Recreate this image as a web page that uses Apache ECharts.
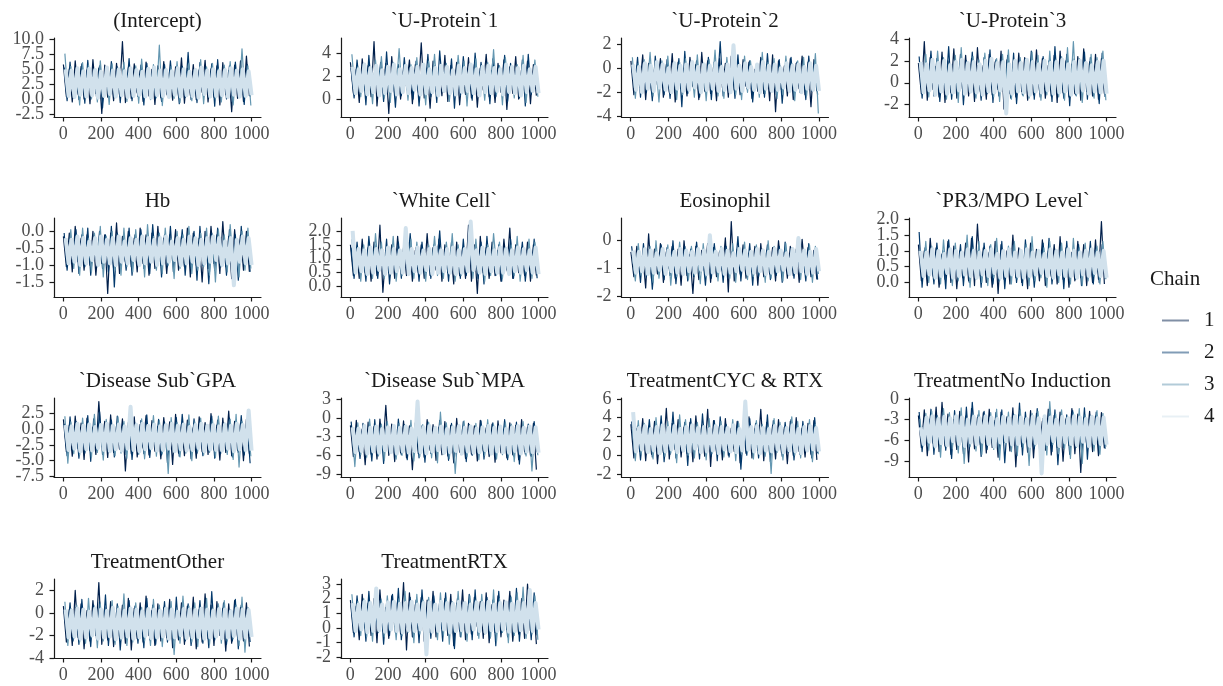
<!DOCTYPE html>
<html><head><meta charset="utf-8">
<script src="https://cdn.jsdelivr.net/npm/echarts@6/dist/echarts.min.js"></script>
<style>html,body{margin:0;padding:0;background:#fff}#c{width:1223px;height:686px}</style>
</head><body><div id="c"></div>
<script>
const panelTitles = ["(Intercept)","`U-Protein`1","`U-Protein`2","`U-Protein`3","Hb","`White Cell`","Eosinophil","`PR3/MPO Level`","`Disease Sub`GPA","`Disease Sub`MPA","TreatmentCYC & RTX","TreatmentNo Induction","TreatmentOther","TreatmentRTX"];
const yTickLabels = [
 ["-2.5","0.0","2.5","5.0","7.5","10.0"],
 ["0","2","4"],
 ["-4","-2","0","2"],
 ["-2","0","2","4"],
 ["-1.5","-1.0","-0.5","0.0"],
 ["0.0","0.5","1.0","1.5","2.0"],
 ["-2","-1","0"],
 ["0.0","0.5","1.0","1.5","2.0"],
 ["-7.5","-5.0","-2.5","0.0","2.5"],
 ["-9","-6","-3","0","3"],
 ["-2","0","2","4","6"],
 ["-9","-6","-3","0"],
 ["-4","-2","0","2"],
 ["-2","-1","0","1","2","3"]
];
const xTickLabels = ["0","200","400","600","800","1000"];
const chainNames = ["1","2","3","4"];

// each chain alternates between an upper-mode draw (Hi) and a lower-mode draw (Lo)
const interceptHi = [
 [5.8,5.1,6.4,5.5,4.9,6.6,5.2,5.7,4.6,6.0,9.6,5.3,5.9,4.8,6.2,5.0,5.6,6.3,4.7,5.4,6.9,5.2,5.8,4.9,6.5,5.1,5.6,6.1,4.8,5.7,6.4,7.2],
 [5.3,6.2,4.8,5.9,6.5,5.0,5.6,4.7,6.3,5.4,5.1,6.8,4.9,5.7,6.0,5.2,4.6,5.8,6.4,5.0,5.5,7.8,4.8,6.1,5.3,5.9,6.6,4.9,5.6,6.2,5.1,5.8],
 [7.6,5.5,5.0,6.1,5.7,4.8,6.4,5.3,5.9,5.1,6.2,4.9,5.6,6.7,5.0,5.8,9.0,4.7,5.5,6.3,5.2,5.9,4.8,6.6,5.4,6.0,5.1,5.7,6.3,5.0,8.4,5.6],
 [5.0,4.8,5.2,4.7,5.1,4.9,4.6,5.3,4.8,5.0,4.7,5.2,4.9,4.6,5.1,5.3,4.8,4.9,4.7,5.2,5.0,4.6,4.9,5.3,4.8,5.0,4.7,4.9,5.2,4.8,5.0,4.7]];
const interceptLo = [
 [0.5,-0.4,0.9,0.1,-0.7,1.0,-2.3,0.4,-0.2,0.8,-0.5,0.2,1.1,-0.3,0.6,-0.8,0.3,0.9,-0.1,0.5,-0.6,0.7,0.0,1.2,-0.4,0.4,-0.9,0.8,-2.0,0.2,-0.3,0.6],
 [-0.2,0.7,0.0,-0.6,0.9,0.3,-1.4,1.0,0.4,-0.5,0.8,-0.2,0.5,-0.9,1.1,0.2,-0.3,0.6,0.9,-0.7,0.4,0.0,-0.5,0.8,0.3,-1.1,0.6,0.1,-0.4,0.9,-0.8,0.5],
 [0.8,0.2,-0.9,0.6,0.1,-0.4,0.7,-0.8,0.3,1.0,-0.3,0.5,-0.6,0.9,0.0,0.4,-1.0,0.7,0.2,-0.5,1.2,-0.2,0.6,-0.7,0.8,0.1,-0.4,0.5,-0.9,0.3,0.7,-1.0],
 [0.6,0.4,0.8,0.5,0.7,0.3,0.6,0.9,0.5,0.7,0.4,0.6,0.8,0.5,0.3,0.7,0.6,0.4,0.8,0.5,0.7,0.6,0.3,0.9,0.5,0.6,0.7,0.4,0.8,0.5,0.6,0.7]];
const uProtein1Hi = [
 [3.2,2.6,3.5,2.9,5.0,2.4,3.1,3.7,2.8,2.5,3.4,3.0,4.9,2.7,3.3,2.6,3.8,2.9,3.2,2.4,3.6,3.0,2.7,3.9,2.5,3.1,3.4,2.8,3.7,2.6,3.3,3.0],
 [2.7,3.4,2.9,3.8,2.5,3.2,4.1,2.6,3.0,3.6,2.8,3.3,2.6,3.9,2.9,4.2,2.7,3.5,3.1,3.7,2.6,4.0,3.2,2.8,3.5,2.9,3.8,3.1,2.7,3.4,3.9,2.8],
 [3.9,2.8,3.1,2.5,3.4,3.7,2.9,3.2,4.4,2.8,3.0,3.6,2.6,3.3,3.9,2.7,3.1,2.5,3.8,3.3,2.9,3.5,2.6,3.2,4.3,2.9,3.6,2.7,3.0,3.8,2.5,3.4],
 [2.8,2.6,3.0,2.7,2.9,2.5,2.8,3.0,2.6,2.9,2.7,2.8,3.0,2.6,2.7,2.9,2.8,2.5,2.9,2.7,3.0,2.6,2.8,2.9,2.7,2.6,3.0,2.8,2.7,2.9,2.6,2.8]];
const uProtein1Lo = [
 [0.5,-0.3,0.8,0.2,-0.6,0.9,-1.25,0.4,0.0,1.1,-0.4,0.6,0.1,-0.8,0.7,0.3,-0.2,0.9,-0.5,0.4,0.1,-0.7,0.8,0.2,-0.3,0.6,-0.9,0.5,0.0,0.7,-0.4,0.3],
 [0.1,0.7,-0.5,0.4,0.9,-0.2,0.5,-0.7,0.3,0.8,0.0,-0.6,0.6,0.2,-0.3,1.0,0.4,-0.8,0.3,0.7,-0.1,0.5,0.9,-0.4,0.2,0.6,-0.2,0.8,0.1,-0.6,0.4,0.7],
 [0.8,0.2,0.4,-0.4,0.6,0.1,-0.3,0.9,0.5,-0.1,0.7,0.3,-0.5,0.8,0.2,0.6,-0.2,0.4,0.9,-0.6,0.5,0.2,-0.1,0.7,0.4,-0.5,0.8,0.1,0.6,-0.3,0.9,0.2],
 [0.5,0.7,0.4,0.6,0.3,0.5,0.7,0.4,0.6,0.5,0.8,0.4,0.5,0.6,0.3,0.7,0.5,0.4,0.6,0.7,0.5,0.3,0.6,0.5,0.7,0.4,0.6,0.5,0.3,0.6,0.7,0.5]];
const uProtein2Hi = [
 [0.6,0.2,1.1,0.4,-0.1,0.8,0.3,1.2,0.5,0.0,0.9,0.3,1.3,0.6,0.1,0.8,0.4,1.0,0.2,0.7,0.5,-0.1,0.9,0.3,1.1,0.6,0.2,0.8,0.4,1.0,0.5,0.7],
 [0.2,0.9,0.5,0.0,1.0,0.4,0.7,0.1,0.8,1.4,0.3,0.6,-0.2,0.9,0.5,2.2,0.2,0.7,1.1,0.3,0.6,0.0,0.8,1.2,0.4,0.7,0.1,0.9,0.5,0.2,1.0,0.6],
 [0.9,0.4,0.7,1.3,0.2,0.6,1.0,0.3,0.5,0.8,0.1,1.1,0.4,0.7,1.5,0.3,0.9,0.5,0.2,1.0,0.6,0.3,1.3,0.5,0.8,0.2,1.0,0.4,0.6,0.9,0.3,1.2],
 [0.3,0.1,0.4,0.2,0.5,0.3,0.0,0.4,0.2,0.3,0.5,0.1,0.3,0.2,0.4,0.1,0.3,1.9,0.2,0.4,0.1,0.3,0.5,0.2,0.3,0.0,0.4,0.2,0.3,0.1,0.4,0.2]];
const uProtein2Lo = [
 [-2.2,-1.6,-2.6,-1.9,-1.4,-2.4,-2.0,-2.8,-1.7,-2.3,-1.5,-2.6,-1.9,-2.1,-2.7,-1.6,-2.4,-1.8,-2.2,-1.5,-2.5,-1.9,-2.1,-2.7,-3.6,-1.8,-2.3,-2.6,-1.7,-2.2,-3.2,-1.9],
 [-1.8,-2.4,-2.0,-2.7,-1.6,-2.2,-2.5,-1.9,-3.2,-2.1,-1.7,-2.4,-2.0,-2.6,-1.8,-2.3,-1.5,-2.5,-2.1,-1.7,-2.8,-2.0,-2.4,-1.8,-2.2,-2.9,-1.7,-2.3,-2.0,-2.6,-1.9,-2.2],
 [-2.5,-2.0,-1.7,-2.3,-2.8,-1.8,-2.1,-2.6,-2.2,-1.6,-2.4,-2.0,-2.7,-1.8,-2.3,-2.5,-1.9,-2.2,-2.6,-2.0,-1.7,-2.4,-2.1,-1.8,-2.5,-2.2,-1.9,-2.7,-2.0,-2.3,-1.8,-3.75],
 [-1.8,-2.0,-1.7,-1.9,-1.6,-1.8,-2.0,-1.7,-1.9,-1.8,-1.6,-2.0,-1.8,-1.7,-1.9,-1.8,-2.0,-1.7,-1.9,-1.6,-1.8,-2.0,-1.7,-1.9,-1.8,-1.6,-1.9,-1.8,-2.0,-1.7,-1.8,-1.9]];
const uProtein3Hi = [
 [1.8,3.76,2.3,1.5,2.8,2.0,3.1,1.7,2.5,2.2,3.2,1.6,2.6,1.9,2.9,2.1,1.4,2.7,2.3,1.8,3.0,2.2,1.6,2.5,2.9,2.0,1.7,2.4,3.1,1.9,2.6,2.2],
 [2.4,1.7,2.9,2.2,1.5,3.3,1.9,2.6,2.0,2.8,1.6,2.3,3.0,2.1,1.8,2.5,2.7,1.5,2.2,2.9,1.8,2.4,2.0,3.3,1.7,2.6,2.2,1.9,2.8,2.3,1.6,2.7],
 [1.6,2.6,2.0,2.9,2.3,1.8,2.5,3.2,1.9,2.4,2.1,2.7,1.7,2.2,2.6,3.0,1.9,2.3,2.0,2.8,2.5,1.6,2.9,2.1,2.4,3.2,3.76,2.2,1.8,2.6,2.3,2.9],
 [1.9,1.7,2.1,1.8,2.0,1.6,1.9,2.1,1.8,1.9,1.7,2.0,2.2,1.8,1.9,1.7,2.0,1.8,2.1,1.9,1.7,2.0,1.8,1.9,2.1,1.7,1.9,2.0,1.8,1.6,1.9,2.0]];
const uProtein3Lo = [
 [-1.0,-1.6,-0.6,-1.3,-1.8,-0.9,-1.4,-0.7,-1.2,-1.7,-0.8,-1.5,-1.1,-0.6,-2.4,-1.0,-1.3,-0.8,-1.6,-1.1,-0.7,-1.4,-1.2,-1.8,-0.9,-1.3,-1.0,-1.6,-0.8,-1.2,-1.5,-1.0],
 [-1.4,-0.8,-1.2,-1.7,-0.9,-1.5,-1.1,-2.0,-0.7,-1.3,-1.6,-1.0,-1.8,-1.2,-0.8,-1.4,-1.9,-1.1,-0.7,-1.5,-1.3,-0.9,-1.7,-1.0,-1.4,-2.1,-1.1,-0.8,-1.5,-1.2,-1.9,-1.3],
 [-0.8,-1.3,-1.0,-0.6,-1.5,-1.1,-1.8,-1.2,-0.9,-1.4,-1.1,-0.8,-1.3,-1.7,-1.0,-1.5,-0.7,-1.2,-1.4,-0.9,-1.6,-1.1,-0.8,-1.3,-1.6,-1.0,-1.2,-1.8,-1.0,-1.4,-0.9,-1.6],
 [-0.9,-0.7,-1.1,-0.8,-1.0,-0.9,-0.7,-1.0,-0.8,-0.9,-1.1,-0.8,-0.9,-0.7,-2.8,-1.0,-0.8,-0.9,-1.1,-0.8,-0.9,-0.7,-1.0,-0.9,-0.8,-1.1,-0.9,-0.7,-1.0,-0.8,-0.9,-1.0]];
const hbHi = [
 [-0.15,-0.05,0.15,-0.2,-0.1,0.0,-0.25,-0.1,-0.05,0.25,-0.15,0.0,-0.2,0.1,-0.1,-0.05,0.15,-0.2,-0.1,0.05,-0.15,0.1,-0.05,-0.2,0.0,0.15,-0.1,0.29,-0.15,0.05,-0.1,0.0],
 [-0.05,-0.2,0.05,-0.1,0.1,-0.25,0.0,-0.1,0.15,-0.05,-0.2,0.1,-0.1,0.05,-0.15,0.2,-0.05,-0.1,0.15,-0.2,0.05,-0.1,0.0,0.15,-0.15,-0.05,0.1,-0.2,0.05,-0.1,0.15,-0.05],
 [-0.25,0.05,-0.1,0.1,-0.2,-0.05,0.15,-0.15,0.0,-0.1,0.1,-0.2,0.05,-0.1,0.2,-0.15,-0.05,0.1,-0.2,0.0,-0.1,0.15,-0.2,-0.05,0.1,-0.15,0.05,-0.1,0.2,-0.25,0.0,0.1],
 [-0.2,-0.25,-0.15,-0.2,-0.3,-0.2,-0.15,-0.25,-0.2,-0.15,-0.3,-0.2,-0.25,-0.15,-0.2,-0.25,-0.2,-0.15,-0.3,-0.2,-0.25,-0.15,-0.2,-0.25,-0.2,-0.15,-0.2,-0.3,-0.2,-0.25,-0.15,-0.2]];
const hbLo = [
 [-1.05,-1.2,-0.9,-1.15,-1.0,-1.3,-0.95,-1.84,-1.1,-1.25,-0.9,-1.05,-1.2,-0.95,-1.3,-1.1,-1.0,-1.25,-0.9,-1.15,-1.05,-1.35,-1.0,-1.5,-1.1,-0.95,-1.25,-1.05,-1.4,-0.9,-1.15,-1.2],
 [-1.15,-0.95,-1.25,-1.05,-1.3,-0.9,-1.1,-1.2,-1.65,-1.0,-1.15,-1.3,-0.95,-1.1,-1.25,-1.0,-1.35,-1.05,-1.2,-0.95,-1.3,-1.1,-1.45,-1.0,-1.55,-1.15,-1.05,-1.3,-1.1,-1.45,-1.0,-1.2],
 [-0.95,-1.1,-1.3,-1.0,-1.2,-1.05,-1.35,-0.95,-1.15,-1.3,-1.05,-1.2,-1.0,-1.35,-0.9,-1.15,-1.25,-1.0,-1.4,-1.1,-0.95,-1.25,-1.15,-1.05,-1.3,-1.5,-1.05,-1.2,-0.95,-1.35,-1.15,-1.1],
 [-0.95,-0.9,-1.0,-0.95,-0.85,-1.0,-0.9,-0.95,-1.0,-0.9,-0.95,-0.85,-1.0,-0.95,-0.9,-1.0,-0.95,-0.9,-0.85,-1.0,-0.95,-0.9,-1.0,-0.95,-0.9,-0.85,-1.0,-0.95,-1.6,-0.9,-0.95,-1.0]];
const whiteCellHi = [
 [1.5,1.3,1.7,1.4,1.6,2.2,1.3,1.5,1.8,1.4,1.6,1.3,1.5,1.9,1.4,1.7,1.5,1.3,1.6,1.4,2.2,1.5,1.8,1.4,1.6,1.3,1.7,2.1,1.5,1.4,1.6,1.5],
 [1.4,1.6,1.3,1.8,1.5,1.4,1.7,1.3,1.6,1.5,1.9,1.4,1.6,1.3,1.5,2.0,1.4,1.6,1.3,1.7,1.5,1.4,1.6,1.8,1.3,1.5,1.4,1.7,1.5,1.6,1.3,1.7],
 [1.7,1.4,1.5,1.3,1.9,1.6,1.4,1.8,1.3,1.5,1.7,1.6,1.3,1.5,1.8,1.4,1.6,1.9,1.5,1.3,1.6,1.7,1.4,1.5,1.9,1.6,1.4,1.5,1.8,1.3,1.7,1.6],
 [2.0,1.35,1.3,1.4,1.35,1.3,1.4,1.35,1.3,2.1,1.35,1.4,1.3,1.35,1.4,1.3,1.35,1.4,1.3,1.35,2.33,1.3,1.4,1.35,1.3,1.4,1.35,1.3,1.4,1.35,1.3,1.4]];
const whiteCellLo = [
 [0.4,0.3,0.5,0.2,0.4,-0.2,0.5,0.3,0.6,0.4,0.2,0.5,0.3,0.4,0.6,0.2,0.5,0.1,0.4,0.3,0.2,-0.24,0.5,0.3,0.4,0.2,0.6,0.3,0.5,0.4,0.2,0.4],
 [0.3,0.5,0.2,0.6,0.3,0.4,0.1,0.5,0.3,0.6,0.4,0.2,0.5,0.3,0.7,0.4,0.2,0.5,0.3,0.4,0.6,0.3,0.1,0.5,0.4,0.2,0.5,0.3,0.6,0.2,0.4,0.3],
 [0.5,0.2,0.4,0.3,0.6,0.3,0.5,0.2,0.4,0.7,0.3,0.5,0.2,0.6,0.4,0.3,0.5,0.2,0.4,0.6,0.3,0.5,0.2,0.4,0.7,0.3,0.5,0.4,0.2,0.5,0.3,0.6],
 [0.5,0.55,0.45,0.5,0.6,0.45,0.5,0.55,0.5,0.45,0.55,0.5,0.6,0.45,0.5,0.55,0.5,0.45,0.5,0.55,0.6,0.5,0.45,0.55,0.5,0.5,0.45,0.55,0.5,0.6,0.5,0.45]];
const eosinophilHi = [
 [-0.4,-0.2,-0.5,0.25,-0.3,-0.1,-0.4,-0.2,-0.3,0.0,-0.5,-0.2,-0.35,-0.1,-0.25,-0.4,0.1,0.69,-0.3,-0.15,-0.45,-0.2,-0.1,-0.35,-0.25,0.0,-0.4,-0.2,-0.3,0.05,-0.25,-0.35],
 [-0.2,-0.45,-0.1,-0.3,-0.5,-0.15,-0.25,0.0,-0.4,-0.2,-0.3,-0.05,-0.45,-0.25,-0.1,-0.35,-0.2,-0.4,0.15,-0.3,-0.1,-0.25,-0.45,-0.15,-0.3,-0.2,-0.05,-0.35,-0.2,-0.4,-0.1,-0.3],
 [-0.55,-0.1,-0.3,-0.2,0.0,-0.4,-0.15,-0.35,-0.05,-0.3,-0.2,-0.45,-0.1,0.05,-0.3,-0.2,-0.4,-0.1,-0.25,-0.05,-0.35,-0.15,-0.3,0.0,-0.2,-0.4,-0.1,-0.25,0.1,-0.3,-0.15,-0.2],
 [-0.35,-0.4,-0.3,-0.35,-0.45,-0.3,-0.35,-0.4,-0.3,-0.35,-0.4,-0.3,-0.35,0.2,-0.4,-0.3,-0.35,-0.45,-0.3,-0.35,-0.4,-0.3,-0.35,-0.4,-0.3,-0.35,-0.45,-0.3,0.1,-0.35,-0.4,-0.3]];
const eosinophilLo = [
 [-1.3,-1.1,-1.7,-1.4,-1.2,-1.5,-1.0,-1.35,-1.6,-1.25,-1.9,-1.4,-1.15,-1.5,-1.3,-1.1,-1.85,-1.45,-1.2,-1.35,-1.1,-1.6,-1.3,-1.2,-1.45,-1.1,-1.35,-1.25,-1.5,-1.15,-1.3,-1.4],
 [-1.2,-1.5,-1.3,-1.75,-1.1,-1.4,-1.25,-1.55,-1.15,-1.45,-1.3,-1.1,-1.6,-1.35,-1.2,-1.5,-1.3,-1.15,-1.45,-1.25,-1.6,-1.3,-1.1,-1.4,-1.25,-1.5,-1.2,-1.35,-1.1,-1.45,-1.3,-1.4],
 [-1.45,-1.25,-1.15,-1.5,-1.35,-1.2,-1.6,-1.3,-1.1,-1.4,-1.25,-1.55,-1.3,-1.15,-1.45,-1.2,-1.35,-1.5,-1.1,-1.4,-1.3,-1.2,-1.5,-1.35,-1.15,-1.45,-1.25,-1.1,-1.4,-1.3,-1.5,-1.2],
 [-1.15,-1.1,-1.2,-1.15,-1.05,-1.2,-1.1,-1.15,-1.2,-1.1,-1.15,-1.05,-1.2,-1.15,-1.1,-1.2,-1.15,-1.1,-1.05,-1.2,-1.15,-1.1,-1.2,-1.15,-1.1,-1.05,-1.2,-1.15,-1.1,-1.2,-1.15,-1.1]];
const pr3MpoHi = [
 [1.2,1.0,1.4,1.1,0.9,1.3,1.15,1.0,1.25,1.4,1.85,1.1,0.95,1.3,1.2,1.0,1.5,1.1,0.9,1.25,1.05,1.35,1.0,1.2,1.45,1.1,0.95,1.3,1.2,1.05,1.35,1.93],
 [1.6,1.1,0.95,1.25,1.0,1.35,0.9,1.2,1.1,1.45,1.0,1.25,1.15,0.9,1.3,1.05,1.2,0.95,1.35,1.1,1.0,1.25,1.4,0.95,1.15,1.3,1.0,1.2,0.9,1.3,1.1,1.2],
 [1.05,1.3,1.15,0.9,1.35,1.05,1.25,0.95,1.5,1.1,1.3,1.0,1.2,1.4,0.95,1.15,1.3,1.05,1.2,1.45,0.9,1.1,1.3,1.05,1.25,0.95,1.4,1.1,1.25,1.0,1.15,1.3],
 [1.0,0.95,1.05,1.0,0.9,1.05,1.0,0.95,1.05,1.0,0.95,1.0,1.05,0.9,1.0,1.05,0.95,1.0,1.05,0.95,1.0,0.9,1.05,1.0,0.95,1.05,1.0,0.95,1.0,1.05,0.95,1.0]];
const pr3MpoLo = [
 [0.05,-0.1,0.2,-0.15,0.1,0.0,-0.2,0.15,0.05,-0.1,0.2,0.0,-0.15,-0.35,0.1,-0.05,0.15,0.0,-0.2,0.1,0.05,-0.1,0.2,-0.05,0.1,-0.15,0.05,0.15,-0.1,0.0,0.1,-0.05],
 [-0.15,0.1,-0.05,0.2,-0.2,0.05,0.15,-0.1,0.0,0.2,-0.15,0.1,-0.05,0.05,-0.2,0.15,0.0,-0.1,0.1,-0.15,0.2,0.0,-0.05,0.15,-0.2,0.05,0.1,-0.1,0.2,-0.05,0.0,0.15],
 [0.15,0.0,0.1,-0.05,0.25,-0.1,0.05,0.2,-0.15,0.1,0.0,-0.1,0.15,0.05,0.25,-0.05,0.1,0.2,-0.1,0.05,0.15,-0.15,0.1,0.0,0.2,-0.05,0.15,-0.1,0.05,0.2,-0.05,0.1],
 [0.2,0.25,0.15,0.2,0.3,0.15,0.2,0.25,0.2,0.15,0.25,0.2,0.3,0.15,0.2,0.25,0.2,0.15,0.2,0.25,0.3,0.2,0.15,0.25,0.2,0.2,0.15,0.25,0.2,0.3,0.2,0.15]];
const gpaHi = [
 [1.5,0.6,2.0,0.9,1.7,0.3,4.3,1.2,2.2,0.5,1.6,1.0,1.9,0.7,2.1,1.3,0.4,1.8,1.1,2.3,0.8,1.4,0.2,1.9,1.0,2.4,0.6,1.7,2.8,1.2,0.9,1.5],
 [0.8,1.9,1.2,0.4,2.1,1.6,2.7,0.6,1.4,2.0,0.9,1.7,0.3,1.3,2.2,0.7,1.5,1.1,0.5,1.8,2.3,0.9,1.6,1.2,0.4,2.0,1.4,0.8,1.7,0.6,2.1,1.0],
 [2.0,1.1,0.5,1.7,1.0,2.3,0.8,1.5,0.3,1.9,1.2,3.0,0.9,1.6,0.4,2.1,1.3,0.7,1.8,1.0,0.6,2.2,1.1,1.7,0.5,1.4,2.0,0.9,1.5,2.3,1.2,0.7],
 [0.6,0.4,0.8,0.5,0.7,0.3,0.6,0.8,0.5,0.7,0.4,3.5,0.6,0.8,0.5,0.7,0.4,0.6,0.8,0.5,0.7,0.3,0.6,0.8,0.5,0.6,0.4,0.7,0.5,0.8,0.6,2.9]];
const gpaLo = [
 [-3.6,-4.3,-3.1,-4.8,-3.4,-4.0,-2.8,-4.5,-3.7,-3.2,-6.6,-3.9,-4.4,-3.0,-4.1,-3.5,-4.7,-3.3,-5.6,-3.8,-4.2,-3.1,-4.6,-3.6,-4.0,-3.3,-4.9,-3.7,-4.2,-3.4,-5.0,-3.9],
 [-4.2,-3.5,-4.6,-3.8,-5.1,-3.3,-4.0,-3.7,-4.4,-3.1,-4.0,-4.8,-3.4,-3.9,-4.5,-3.2,-4.1,-5.3,-3.6,-4.3,-3.0,-4.7,-3.8,-4.2,-3.4,-4.6,-3.9,-3.3,-4.4,-3.7,-4.1,-5.4],
 [-5.4,-3.9,-4.1,-3.4,-4.5,-3.7,-4.9,-3.2,-4.2,-3.8,-4.6,-3.5,-4.0,-4.7,-3.3,-4.3,-3.9,-7.0,-3.6,-4.4,-3.8,-5.0,-3.5,-4.1,-3.7,-4.5,-3.2,-4.0,-4.8,-6.0,-3.6,-4.3],
 [-3.3,-3.1,-3.5,-3.2,-3.4,-3.0,-3.3,-3.5,-3.2,-3.4,-3.1,-3.3,-3.5,-3.2,-3.0,-3.4,-3.3,-3.1,-3.5,-3.2,-3.4,-3.3,-3.0,-3.5,-3.2,-3.3,-3.4,-3.1,-3.5,-3.2,-3.3,-3.4]];
const mpaHi = [
 [-1.2,-0.4,-1.8,-0.7,-1.4,-0.2,2.0,-1.0,-1.6,-0.5,-1.3,-0.8,-1.9,-0.3,-1.1,-1.5,-0.6,-1.2,-0.1,-1.7,-0.9,-1.3,-0.4,-1.6,-1.0,-0.5,-1.8,-0.8,-1.2,-0.3,-1.5,-0.9],
 [-0.6,-1.5,-0.9,-1.9,-0.3,-1.2,-0.7,-1.6,-0.2,-1.1,-1.7,-0.5,-1.3,-0.8,-1.8,-0.4,-1.4,-0.9,-1.6,-0.6,-1.1,-1.9,-0.5,-1.2,-0.8,-1.5,-0.3,-1.3,-0.7,-1.7,-1.0,-0.6],
 [-1.7,-0.8,-1.2,-0.2,-1.5,-1.0,-0.6,-1.8,-0.9,-1.3,-0.4,-1.6,-1.1,-0.7,-1.4,0.9,-0.8,-1.2,-1.9,-0.5,-1.3,-0.9,-1.6,-0.3,-1.1,-1.4,-0.7,-1.0,-1.8,-0.6,-1.2,-1.5],
 [-1.5,-1.7,-1.3,-1.6,-1.4,-1.8,-1.5,-1.3,-1.6,-1.4,-1.7,2.6,-1.5,-1.3,-1.6,-1.4,-1.8,-1.5,-1.3,-1.6,-1.4,-1.7,-1.5,-1.3,-1.6,-1.4,-1.8,-1.5,-1.3,-1.6,-1.4,-1.5]];
const mpaLo = [
 [-6.2,-5.4,-7.5,-5.8,-6.6,-5.1,-6.0,-7.0,-5.6,-6.4,-8.3,-5.7,-6.3,-5.2,-6.8,-5.9,-6.1,-7.2,-5.5,-6.5,-5.8,-6.9,-5.3,-6.2,-7.1,-5.6,-6.4,-5.9,-6.7,-5.4,-6.0,-8.3],
 [-5.8,-6.5,-5.3,-6.9,-6.0,-7.3,-5.5,-6.2,-5.9,-6.7,-5.2,-6.4,-7.1,-5.7,-6.1,-5.5,-6.8,-6.3,-5.4,-7.0,-6.0,-5.6,-6.6,-5.9,-6.3,-5.1,-6.7,-6.1,-7.4,-5.8,-6.2,-5.5],
 [-7.8,-5.9,-6.3,-5.6,-6.1,-6.8,-5.4,-6.6,-6.0,-5.7,-6.9,-6.2,-5.5,-6.4,-7.2,-5.8,-6.5,-8.9,-5.9,-6.2,-5.6,-6.7,-6.0,-5.3,-6.6,-5.9,-6.3,-7.0,-5.7,-6.1,-8.5,-6.0],
 [-5.5,-5.3,-5.7,-5.4,-5.6,-5.2,-5.5,-5.7,-5.4,-5.6,-5.3,-5.5,-5.7,-5.4,-5.2,-5.6,-5.5,-5.3,-5.7,-5.4,-5.6,-5.5,-5.2,-5.7,-5.4,-5.5,-5.6,-5.3,-5.7,-5.4,-5.5,-5.6]];
const cycRtxHi = [
 [3.3,2.8,3.9,3.1,3.6,2.7,5.0,3.4,3.8,3.0,3.5,4.2,3.2,4.9,3.7,3.1,3.9,2.9,3.6,3.3,4.1,2.8,4.9,3.5,3.2,3.8,3.0,3.6,4.0,2.9,3.4,3.7],
 [3.6,3.1,2.7,3.8,3.3,4.2,3.0,4.6,2.9,3.5,3.9,3.2,4.4,3.0,3.7,4.1,3.3,2.8,3.6,3.1,3.9,3.4,3.0,4.3,3.7,2.9,3.5,3.8,3.2,3.6,3.0,4.0],
 [2.9,3.7,3.4,2.8,4.0,3.2,3.6,3.0,4.3,3.8,3.1,3.5,2.9,3.9,3.3,3.6,3.0,3.8,3.4,4.2,2.9,3.7,3.3,3.1,3.9,3.5,2.8,4.1,3.6,3.2,3.8,3.3],
 [4.6,2.9,3.1,2.8,3.0,3.2,2.9,3.1,2.8,3.0,3.2,2.9,3.0,2.8,3.1,3.0,2.9,3.2,2.8,5.72,3.0,3.1,2.9,2.8,3.1,3.0,2.9,3.2,2.8,3.0,3.1,2.9]];
const cycRtxLo = [
 [-0.3,0.4,-0.6,0.1,-0.9,0.3,-0.4,0.6,-0.2,0.2,-0.7,0.5,-0.1,-1.2,0.3,-0.5,0.0,0.4,-0.8,0.2,-0.3,0.5,-0.6,0.1,-0.4,0.3,-0.9,0.0,0.4,-0.2,0.1,-0.5],
 [0.2,-0.5,0.5,-0.2,0.3,-0.7,0.1,-0.3,0.6,-1.1,0.2,-0.4,0.4,-0.1,-0.6,0.3,-0.2,0.5,-1.5,0.0,0.4,-0.3,0.2,-0.7,0.5,-0.1,0.3,-0.5,0.1,0.6,-0.3,0.2],
 [-0.6,0.1,0.3,-0.4,0.6,-0.1,0.2,-0.8,0.4,0.0,-0.3,0.7,-0.5,0.2,0.4,-0.2,0.6,-0.6,0.1,0.3,-0.4,0.2,-0.1,-1.95,0.3,-0.5,0.5,0.0,-0.3,0.4,-0.7,0.1],
 [0.4,0.6,0.3,0.5,0.2,0.4,0.6,0.3,0.5,0.4,0.7,0.3,0.4,0.5,0.2,0.6,0.4,0.3,0.5,0.6,0.4,0.2,0.5,0.4,0.6,0.3,0.5,0.4,0.2,0.5,0.6,0.4]];
const noInductionHi = [
 [-2.4,-1.6,-2.9,-1.2,-0.5,-2.2,-3.0,-1.8,-2.5,-1.4,-2.7,-2.0,-1.5,-3.1,-1.9,-2.6,-1.3,-2.3,-2.8,-1.7,-2.1,-3.2,-1.5,-2.4,-1.9,-2.9,-1.4,-2.2,-2.7,-1.8,-2.5,-2.0],
 [-1.9,-2.8,-1.5,-2.4,-2.1,-3.3,-1.7,-2.6,-1.2,-0.5,-2.3,-1.8,-2.9,-2.0,-1.6,-2.7,-2.2,-0.6,-1.9,-2.5,-1.4,-2.8,-2.1,-1.6,-3.0,-2.3,-1.7,-2.6,-1.3,-2.4,-1.9,-2.8],
 [-2.9,-2.1,-1.8,-2.6,-1.4,-2.0,-2.5,-1.3,-2.8,-2.2,-1.7,-2.4,-2.0,-1.5,-2.7,-1.9,-2.3,-1.6,-2.9,-2.1,-1.8,-2.5,-0.4,-2.2,-1.6,-2.6,-2.0,-1.4,-2.3,-2.8,-1.7,-2.1],
 [-4.1,-2.7,-2.5,-2.9,-2.6,-2.8,-2.5,-2.7,-3.0,-2.6,-2.8,-2.5,-2.7,-2.9,-2.6,-2.8,-2.5,-2.7,-2.9,-2.6,-2.8,-2.5,-2.7,-3.0,-2.6,-2.8,-2.5,-2.7,-2.9,-2.6,-2.8,-2.7]];
const noInductionLo = [
 [-7.0,-8.2,-6.4,-7.6,-6.8,-8.0,-7.3,-6.5,-9.1,-7.2,-6.6,-7.8,-7.0,-8.4,-6.3,-7.5,-9.8,-6.9,-7.7,-8.5,-6.6,-7.4,-8.1,-7.0,-9.0,-6.7,-7.9,-10.6,-6.5,-7.6,-8.2,-7.1],
 [-7.6,-6.5,-8.0,-6.9,-7.4,-8.6,-6.7,-7.9,-7.1,-6.4,-8.3,-7.3,-6.8,-7.7,-9.2,-6.6,-7.5,-8.1,-6.9,-7.2,-8.8,-6.7,-7.6,-9.5,-7.0,-8.0,-6.6,-7.4,-8.7,-6.9,-7.8,-7.2],
 [-6.8,-7.4,-7.1,-8.4,-6.6,-7.2,-7.8,-9.3,-6.9,-7.5,-8.0,-6.7,-7.3,-8.8,-6.5,-7.6,-8.2,-7.0,-9.6,-6.8,-7.4,-8.1,-6.6,-7.9,-7.2,-8.6,-7.0,-9.3,-6.7,-7.5,-8.0,-6.9],
 [-6.5,-6.2,-6.8,-6.4,-6.7,-6.1,-6.5,-6.8,-6.3,-6.6,-6.2,-6.5,-6.9,-6.3,-6.1,-6.6,-6.5,-6.2,-6.8,-6.4,-10.75,-6.5,-6.1,-6.8,-6.3,-6.5,-6.7,-6.2,-6.8,-6.4,-6.5,-6.6]];
const otherHi = [
 [0.6,0.3,2.0,0.8,0.2,1.1,2.7,0.5,1.0,0.1,0.7,1.3,0.4,0.9,1.5,0.2,0.8,0.5,1.2,0.0,0.9,0.6,1.4,0.3,1.7,0.7,1.0,0.4,0.8,1.1,0.5,0.9],
 [0.2,0.9,0.5,1.2,0.0,0.7,1.0,1.6,0.4,0.8,0.1,1.1,0.6,0.3,1.3,0.7,0.2,1.0,0.5,1.4,0.3,0.8,0.0,1.1,0.6,1.9,0.4,0.9,0.2,1.2,0.7,0.3],
 [1.0,0.4,0.7,0.1,1.3,0.5,0.8,0.2,1.1,0.6,1.7,0.3,0.9,0.5,0.0,1.2,0.7,0.4,1.0,0.2,1.5,0.6,0.9,0.1,1.3,0.4,0.8,1.1,0.3,0.7,1.4,0.5],
 [0.3,0.2,0.4,0.3,0.1,0.4,0.3,0.2,0.45,0.3,0.2,0.4,0.3,0.15,0.35,0.3,0.2,0.4,0.3,0.1,0.35,0.3,0.25,0.4,0.3,0.2,0.35,0.3,0.15,0.4,0.3,0.25]];
const otherLo = [
 [-2.6,-2.9,-2.2,-3.2,-2.5,-2.0,-2.8,-2.4,-3.0,-2.1,-2.7,-3.3,-2.3,-2.6,-2.0,-2.9,-2.5,-2.2,-3.1,-2.4,-2.8,-2.1,-3.2,-2.6,-2.3,-2.9,-2.0,-3.4,-2.7,-2.2,-2.5,-3.0],
 [-2.2,-2.5,-2.8,-2.1,-3.0,-2.4,-2.2,-2.9,-2.6,-3.3,-2.3,-2.0,-2.7,-3.1,-2.4,-2.8,-2.1,-2.6,-3.0,-2.3,-2.5,-2.9,-2.2,-2.7,-3.1,-2.4,-2.0,-2.8,-2.5,-3.2,-2.3,-2.6],
 [-2.9,-2.3,-2.6,-2.7,-2.2,-3.1,-2.5,-2.1,-2.8,-2.4,-2.9,-2.6,-2.2,-2.5,-2.9,-2.3,-3.0,-2.4,-3.7,-2.7,-2.2,-2.6,-3.0,-2.4,-2.8,-2.2,-2.7,-2.5,-2.3,-2.9,-3.5,-2.1],
 [-2.2,-2.1,-2.3,-2.2,-2.0,-2.3,-2.2,-2.1,-2.35,-2.2,-2.1,-2.3,-2.2,-2.05,-2.25,-2.2,-2.1,-2.3,-2.2,-2.0,-2.25,-2.2,-2.15,-2.3,-2.2,-2.1,-2.25,-2.2,-2.05,-2.3,-2.2,-2.15]];
const rtxHi = [
 [1.9,1.5,2.3,1.7,2.0,2.6,1.4,2.2,1.8,3.1,2.4,1.6,2.1,1.9,2.5,1.3,2.0,2.3,1.7,2.6,1.5,2.1,1.8,2.4,1.6,2.2,1.9,2.5,1.4,2.0,3.0,1.8],
 [1.6,2.2,1.8,2.5,1.4,2.0,1.7,2.3,2.7,1.5,2.1,1.9,2.6,1.6,2.2,1.8,2.4,1.5,2.0,1.7,2.3,2.6,1.6,2.1,1.9,2.5,1.7,2.2,2.7,1.6,2.0,2.4],
 [2.3,1.8,2.0,1.5,2.4,1.9,2.2,1.6,2.0,2.5,1.7,2.3,1.9,2.1,1.6,2.4,2.0,1.8,2.5,1.5,2.2,1.9,2.3,1.7,2.6,2.0,1.8,2.1,2.4,2.8,1.7,2.2],
 [1.7,1.6,1.8,1.7,2.7,1.6,1.75,1.8,1.65,1.7,1.8,1.6,1.7,1.75,1.6,1.8,1.7,1.65,1.8,1.7,1.6,1.75,1.7,1.8,1.6,1.7,1.75,1.65,1.8,1.7,2.6,1.7]];
const rtxLo = [
 [-0.3,-0.8,0.0,-0.5,-1.0,-0.2,-0.7,0.1,-0.4,-1.5,-0.6,-0.1,-0.9,-0.3,-0.6,0.0,-0.5,-1.2,-0.2,-0.8,-0.4,0.1,-0.7,-1.0,-0.3,-0.6,-0.1,-0.9,-0.4,-0.7,-0.2,-1.1],
 [-0.6,-0.2,-0.9,-0.4,-0.1,-1.1,-0.5,-0.3,-0.8,0.0,-0.6,-1.0,-0.3,-0.7,-0.1,-0.9,-0.4,-1.4,-0.6,-0.2,-0.8,-0.5,-0.1,-0.7,-1.2,-0.3,-0.6,-0.4,-0.9,-0.2,-0.8,-0.5],
 [-0.1,-0.5,-0.6,-0.9,-0.3,-0.6,-0.2,-0.8,-0.5,-0.3,-1.0,-0.4,-0.7,-0.1,-0.8,-0.5,-1.1,-0.3,-0.6,-0.9,-0.2,-0.7,-0.4,-0.6,-0.9,-0.3,-1.0,-0.5,-0.2,-0.7,-0.4,-0.8],
 [-0.2,-0.1,-0.3,-0.2,-0.15,-0.25,-0.1,-0.2,-0.3,-0.15,-0.2,-0.1,-1.8,-0.25,-0.2,-0.1,-0.3,-0.2,-0.15,-0.25,-0.1,-0.2,-0.3,-0.15,-0.2,-0.1,-0.25,-0.2,-0.15,-0.3,-0.2,-0.1]];

const panelHi = [interceptHi,uProtein1Hi,uProtein2Hi,uProtein3Hi,hbHi,whiteCellHi,eosinophilHi,pr3MpoHi,gpaHi,mpaHi,cycRtxHi,noInductionHi,otherHi,rtxHi];
const panelLo = [interceptLo,uProtein1Lo,uProtein2Lo,uProtein3Lo,hbLo,whiteCellLo,eosinophilLo,pr3MpoLo,gpaLo,mpaLo,cycRtxLo,noInductionLo,otherLo,rtxLo];

// ---------- layout & style ----------
const FONT = "'Liberation Serif','Times New Roman',serif";
const CHAIN_COLORS = ['#011f4b','#03396c','#6497b1','#d1e1ec'];
const CHAIN_WIDTHS = [1.2,1.2,1.2,4.0];
const LEGEND_COLORS = ['#808fa5','#819cb6','#b2cbd8','#e8f0f5'];
const colLeft = [54, 341, 621.5, 909];
const rowTop = [38, 218, 398, 579];
const W = 207, H = 79;
const AXIS_COLOR = '#1a1a1a';
const LABEL_COLOR = '#4d4d4d';

const nPts = panelHi[0][0].length * 2;
// iteration of draw i for chain c (chains sampled at slightly staggered iterations)
function iterOf(i, c) { return 1 + (i + c / 4) * 999 / (nPts - 1 + 0.75); }
const xDmin = 1, xDmax = 1000;
const xlo = xDmin - 0.05 * (xDmax - xDmin), xhi = xDmax + 0.05 * (xDmax - xDmin);
const xTickVals = xTickLabels.map(Number);

const option = {
  animation: false,
  backgroundColor: '#ffffff',
  grid: [], xAxis: [], yAxis: [], series: [], title: [],
  legend: {
    orient: 'vertical', left: 1157, top: 305,
    icon: 'rect', itemWidth: 27, itemHeight: 2, itemGap: 11,
    selectedMode: false,
    textStyle: { fontFamily: FONT, fontSize: 21, color: '#1a1a1a', padding: [0,0,0,10] },
    data: chainNames.map((n, i) => ({ name: n, itemStyle: { color: LEGEND_COLORS[i] } }))
  }
};
option.title.push({ text: 'Chain', left: 1150, top: 269, padding: 0,
  textStyle: { fontFamily: FONT, fontSize: 21, fontWeight: 'normal', color: '#1a1a1a' } });

panelTitles.forEach((title, k) => {
  const col = k % 4, row = Math.floor(k / 4);
  const L = colLeft[col], T = rowTop[row];
  const hi = panelHi[k], lo = panelLo[k];
  let vmin = Infinity, vmax = -Infinity;
  for (let c = 0; c < 4; c++) {
    hi[c].concat(lo[c]).forEach(v => { if (v < vmin) vmin = v; if (v > vmax) vmax = v; });
  }
  const elo = vmin - 0.05 * (vmax - vmin), ehi = vmax + 0.05 * (vmax - vmin);
  const labels = yTickLabels[k];
  const tv = labels.map(Number);
  const tint = tv[1] - tv[0];
  // tick axis padded by one (hidden) step at each end
  const t0 = tv[0] - tint, t1 = tv[tv.length - 1] + tint;
  const pyy = H / (ehi - elo);
  const topB = T + (ehi - t1) * pyy, hB = (t1 - t0) * pyy;
  const pxx = W / (xhi - xlo);
  const leftB = L + (xTickVals[0] - xlo) * pxx;
  const wB = (xTickVals[xTickVals.length - 1] - xTickVals[0]) * pxx;
  const gA = option.grid.length;
  option.grid.push({ left: L, top: T, width: W, height: H });
  option.grid.push({ left: leftB, top: topB, width: wB, height: hB });
  const lineStyle = { color: AXIS_COLOR, width: 1.2 };
  option.xAxis.push({ gridIndex: gA, type: 'value', min: xlo, max: xhi,
    axisLine: { show: true, onZero: false, lineStyle }, axisTick: { show: false },
    axisLabel: { show: false }, splitLine: { show: false } });
  option.yAxis.push({ gridIndex: gA, type: 'value', min: elo, max: ehi,
    axisLine: { show: true, onZero: false, lineStyle }, axisTick: { show: false },
    axisLabel: { show: false }, splitLine: { show: false } });
  option.xAxis.push({ gridIndex: gA + 1, type: 'value', min: xTickVals[0], max: xTickVals[xTickVals.length - 1],
    interval: xTickVals[1] - xTickVals[0], position: 'bottom', offset: (T + H) - (topB + hB),
    axisLine: { show: false, onZero: false }, axisTick: { show: true, length: 4.5, lineStyle },
    axisLabel: { show: true, margin: 8, fontFamily: FONT, fontSize: 18, color: LABEL_COLOR,
      showMinLabel: true, showMaxLabel: true, hideOverlap: false,
      formatter: v => { const s = xTickLabels.find(l => Math.abs(Number(l) - v) < 1e-6); return s === undefined ? '' : s; } },
    splitLine: { show: false } });
  option.yAxis.push({ gridIndex: gA + 1, type: 'value', min: t0, max: t1, interval: tint,
    position: 'left', offset: leftB - L,
    axisLine: { show: false, onZero: false }, axisTick: { show: true, length: 4.5, lineStyle },
    axisLabel: { show: true, margin: 10, fontFamily: FONT, fontSize: 18, color: LABEL_COLOR,
      showMinLabel: false, showMaxLabel: false, hideOverlap: false,
      formatter: v => { const s = labels.find(l => Math.abs(Number(l) - v) < 1e-6); return s === undefined ? '' : s; } },
    splitLine: { show: false } });
  for (let c = 0; c < 4; c++) {
    const data = [];
    for (let j = 0; j < hi[c].length; j++) {
      data.push([iterOf(2 * j, c), hi[c][j]]);
      data.push([iterOf(2 * j + 1, c), lo[c][j]]);
    }
    option.series.push({ type: 'line', name: chainNames[c], xAxisIndex: gA, yAxisIndex: gA,
      data, symbol: 'none', silent: true, clip: false, z: 2 + c,
      lineStyle: { color: CHAIN_COLORS[c], width: CHAIN_WIDTHS[c], join: 'round' },
      itemStyle: { color: CHAIN_COLORS[c] } });
  }
  option.title.push({ text: title, left: L + W / 2, top: T - 27, textAlign: 'center', padding: 0,
    textStyle: { fontFamily: FONT, fontSize: 21, fontWeight: 'normal', color: '#1a1a1a' } });
});

const chart = echarts.init(document.getElementById('c'), null, { renderer: 'canvas' });
chart.setOption(option);
</script>
</body></html>
